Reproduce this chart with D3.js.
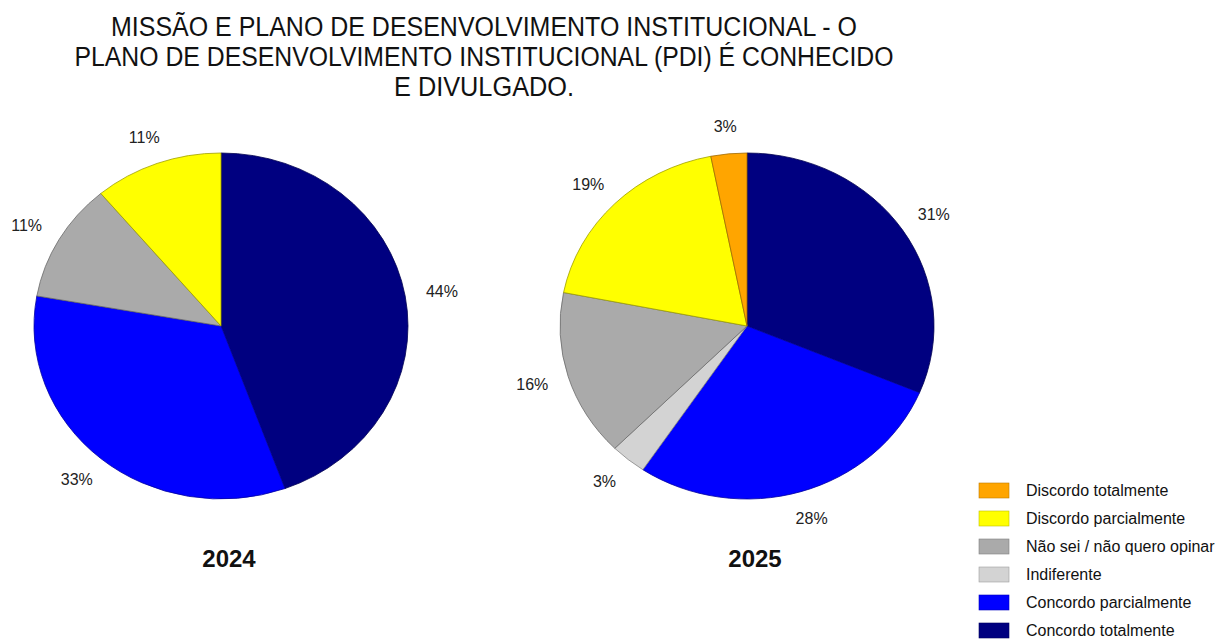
<!DOCTYPE html>
<head>
    <meta charset="utf-8">
    <script src="https://d3js.org/d3.v7.min.js"></script>
    <style>
        body { margin:0; background:#fff; }
        text { font-family: "Liberation Sans", Arial, sans-serif; }
    </style>
</head>
<body>
    <svg id="svgelem" width="1215" height="639"></svg>

    <script>
        // Categories in legend order (top to bottom)
        var categories = ["Discordo totalmente", "Discordo parcialmente", "Não sei / não quero opinar",
                          "Indiferente", "Concordo parcialmente", "Concordo totalmente"];
        var colors = ["#FFA500", "#FFFF00", "#AAAAAA", "#D3D3D3", "#0000FF", "#000080"];

        // Percentages for each category, same order as categories
        // (one decimal, labels show them rounded)
        var years = ["2024", "2025"];
        var values2024 = [0, 11.1, 11.1, 0, 33.3, 44.4];
        var values2025 = [3.1, 18.8, 15.6, 3.1, 28.1, 31.3];

        var titleLines = ["MISSÃO E PLANO DE DESENVOLVIMENTO INSTITUCIONAL - O",
                          "PLANO DE DESENVOLVIMENTO INSTITUCIONAL (PDI) É CONHECIDO",
                          "E DIVULGADO."];

        var svg = d3.select("#svgelem");

        // Title, squeezed to the narrow face of the original
        var titleWidths = [746, 819, 180];
        svg.selectAll(".title")
            .data(titleLines)
            .enter().append("text")
            .attr("class", "title")
            .attr("x", 484)
            .attr("y", function(d, i) { return 36 + i * 30; })
            .attr("text-anchor", "middle")
            .attr("font-size", "27px")
            .attr("fill", "#111")
            .attr("textLength", function(d, i) { return titleWidths[i]; })
            .attr("lengthAdjust", "spacingAndGlyphs")
            .text(function(d) { return d; });

        var color = d3.scaleOrdinal().domain(categories).range(colors);

        // pies run clockwise from 12 o'clock starting at "Concordo totalmente"
        var pie = d3.pie().sort(null).value(function(d) { return d.value; });
        var R = 100;
        var arc = d3.arc().innerRadius(0).outerRadius(R);

        var rx = 187, ry = 173;
        var pies = [
            { year: years[0], values: values2024, cx: 221, cy: 326 },
            { year: years[1], values: values2025, cx: 747, cy: 326 }
        ];

        pies.forEach(function(p) {
            var rows = categories.map(function(c, i) { return { cat: c, value: p.values[i] }; }).reverse();
            var slices = pie(rows).filter(function(d) { return d.data.value > 0; });

            var g = svg.append("g").attr("transform", "translate(" + p.cx + "," + p.cy + ")");

            g.append("g")
                .attr("transform", "scale(" + (rx / R) + "," + (ry / R) + ")")
                .selectAll("path")
                .data(slices)
                .enter().append("path")
                .attr("d", arc)
                .attr("fill", function(d) { return color(d.data.cat); })
                .attr("stroke", function(d) { return d3.color(color(d.data.cat)).darker(1.3); })
                .attr("stroke-width", 0.8)
                .attr("vector-effect", "non-scaling-stroke");

            //Percentage labels outside the slices
            g.selectAll(".lbl")
                .data(slices)
                .enter().append("text")
                .attr("class", "lbl")
                .attr("x", function(d) { var a = (d.startAngle + d.endAngle) / 2; return Math.sin(a) * rx * 1.2; })
                .attr("y", function(d) { var a = (d.startAngle + d.endAngle) / 2; return -Math.cos(a) * ry * 1.16; })
                .attr("dy", "0.35em")
                .attr("text-anchor", "middle")
                .attr("font-size", "16px")
                .attr("fill", "#222")
                .text(function(d) { return Math.round(d.data.value) + "%"; });

            svg.append("text")
                .attr("x", p.cx + 8)
                .attr("y", 567)
                .attr("text-anchor", "middle")
                .attr("font-size", "24px")
                .attr("font-weight", "bold")
                .attr("fill", "#111")
                .text(p.year);
        });

        //Legend
        var legend = svg.selectAll(".legend")
            .data(categories)
            .enter().append("g")
            .attr("class", "legend")
            .attr("transform", function(d, i) { return "translate(979," + (483 + i * 28) + ")"; });

        legend.append("rect")
            .attr("width", 30)
            .attr("height", 15)
            .attr("fill", function(d) { return color(d); })
            .attr("stroke", function(d) { return d3.color(color(d)).darker(0.8); })
            .attr("stroke-width", 0.6);

        legend.append("text")
            .attr("x", 47)
            .attr("y", 7.5)
            .attr("dy", "0.35em")
            .attr("font-size", "16px")
            .attr("fill", "#111")
            .text(function(d) { return d; });
    </script>
</body>
